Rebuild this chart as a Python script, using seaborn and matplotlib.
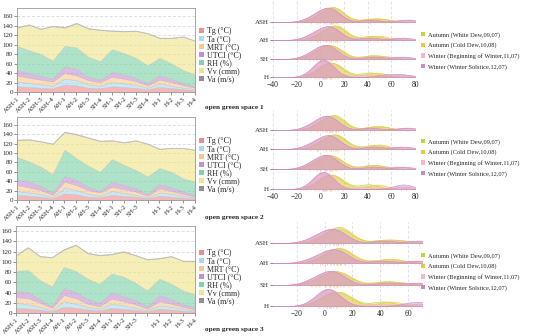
import numpy as np
import pandas as pd
import matplotlib
matplotlib.use("Agg")
import matplotlib.pyplot as plt
import seaborn as sns
from matplotlib.patches import Patch

sns.set_theme(style="white")
plt.rcParams['font.family'] = ['Liberation Serif', 'DejaVu Serif']

# ---------------- data: stacked areas ----------------
SITES_1 = ["ASH-1", "ASH-2", "ASH-3", "ASH-4", "AH-1", "AH-2", "AH-3", "SH-4",
           "SH-1", "SH-2", "SH-3", "SH-4", "H-1", "H-2", "H-3", "H-4"]
SITES_23 = ["ASH-1", "ASH-2", "ASH-3", "ASH-4", "AH-1", "AH-2", "AH-3", "SH-4",
            "SH-1", "SH-2", "SH-3", "", "H-1", "H-2", "H-3", "H-4"]
VARS = ["Tg (°C)", "Ta (°C)", "MRT (°C)", "UTCI (°C)", "RH (%)", "Vv (cmm)", "Va (m/s)"]

TG_1 = [12, 10.5, 9, 8, 15.5, 14, 9, 8, 12, 10.5, 8.5, 5.5, 10.5, 8.5, 5.5, 4]
TA_1 = [10, 8.5, 7, 5, 12.5, 11, 7, 5, 9, 7.5, 6.5, 3.5, 7.5, 4.5, 3.5, 2]
MRT_1 = [13, 11, 10, 9, 12, 10, 9, 8, 11, 10, 8, 5, 8, 8, 5, 3]
UTCI_1 = [12, 10, 8, 6, 14, 13, 7, 5, 10, 9, 7, 5, 9, 7, 5, 3]
RH_1 = [50, 48, 46, 38, 43, 46, 42, 39, 48, 45, 42, 37, 37, 32, 27, 25]
VV_1 = [38.5, 53.5, 52.5, 72.5, 38.5, 50.5, 59.5, 65.5, 38.5, 45.5, 56.5, 67.5, 41.5, 53.5, 70.5, 70.5]
VA_1 = [1.6, 1.5, 1.4, 1.3, 1.8, 1.7, 1.5, 1.4, 1.6, 1.5, 1.4, 1.2, 1.4, 1.3, 1.2, 1.1]

TG_2 = [11, 9, 7, 3.5, 14, 12, 7, 6, 11, 8.5, 7, 3.5, 9, 7, 5, 3]
TA_2 = [8, 7, 6, 2.5, 12, 9, 6, 3, 8, 6.5, 4, 1.5, 7, 6, 4, 2]
MRT_2 = [13, 11, 8, 5, 13, 11, 8, 7, 9, 8, 7, 4, 9, 6, 4, 2]
UTCI_2 = [12, 12, 9, 5, 12, 11, 7, 3, 11, 9, 7, 4, 9, 8, 5, 4]
RH_2 = [48, 43, 41, 39, 56, 46, 45, 41, 48, 43, 39, 37, 34, 33, 28, 28]
VV_2 = [35.5, 46.5, 53.5, 64.5, 37.5, 50.5, 59.5, 65.5, 39.5, 47.5, 62.5, 69.5, 40.5, 50.5, 64.5, 67.5]
VA_2 = [1.5, 1.5, 1.4, 1.2, 1.8, 1.6, 1.5, 1.4, 1.5, 1.4, 1.4, 1.2, 1.4, 1.3, 1.2, 1.1]

TG_3 = [10, 8.5, 6.5, 3.3, 12, 10, 7, 5, 10, 8, 6, 3.3, 8.5, 6.5, 4.5, 3.3]
TA_3 = [10, 8.5, 5.5, 1.7, 11, 8, 5, 3.5, 8, 7, 4, 1.7, 6.5, 5.5, 4, 1.7]
MRT_3 = [11, 12, 8, 5, 12, 11, 6, 4.5, 10, 8, 7, 3.5, 8, 6, 3.5, 2]
UTCI_3 = [12, 12, 7, 3, 14, 12, 9, 7, 12, 10, 8, 4.5, 12, 9, 5, 5]
RH_3 = [39, 43, 37, 39, 41, 41, 40, 37, 37, 38, 34, 31, 32, 30, 27, 24]
VV_3 = [30.5, 43.5, 46.5, 56.5, 33.5, 50.5, 49.5, 55.5, 37.5, 48.5, 53.5, 60.5, 39.5, 53.5, 57.5, 65.5]
VA_3 = [1.5, 1.6, 1.4, 1.2, 1.7, 1.7, 1.5, 1.4, 1.5, 1.5, 1.4, 1.2, 1.4, 1.3, 1.2, 1.1]

# ---------------- data: ridgelines ----------------
GROUPS = ["ASH", "AH", "SH", "H"]
SEASONS = ["Autumn (White Dew,09,07)", "Autumn (Cold Dew,10,08)",
           "Winter (Beginning of Winter,11,07)", "Winter (Winter Solstice,12,07)"]
# each: [White Dew, Cold Dew, Beginning of Winter, Winter Solstice]
S1_ASH = [[-3, 4, 8, 10, 11, 12, 14, 18, 40, 55], [-4, 3, 7, 9, 10, 12, 15, 19, 42, 52],
          [-8, -1, 3, 6, 8, 9, 11, 14, 45, 75], [-8, -2, 2, 5, 7, 9, 11, 13, 42, 72]]
S1_AH = [[-2, 5, 9, 12, 13, 14, 16, 20, 40, 48], [-3, 4, 8, 11, 12, 14, 17, 21, 45, 52],
         [-8, -2, 3, 6, 8, 10, 12, 15, 40, 65], [-9, -3, 2, 5, 7, 9, 11, 14, 42, 70]]
S1_SH = [[-6, 0, 4, 7, 9, 11, 14, 18, 40, 50], [-6, 0, 4, 6, 8, 10, 13, 17, 42, 55],
         [-9, -3, 1, 4, 6, 8, 10, 13, 40, 65], [-10, -4, 0, 3, 5, 7, 9, 12, 45, 70]]
S1_H = [[-3, 3, 6, 8, 10, 12, 15, 19, 40, 44], [-4, 2, 5, 7, 9, 11, 14, 18, 45, 50],
        [-4, 0, 2, 3, 4, 5, 6, 9, 40, 68], [-5, -1, 1, 2, 3, 4, 5, 8, 55, 70]]

S2_ASH = [[-2, 5, 9, 11, 12, 13, 15, 19, 42, 55], [-4, 3, 7, 9, 10, 12, 15, 19, 45, 52],
          [-8, -2, 2, 5, 7, 8, 10, 13, 45, 75], [-9, -3, 1, 4, 6, 8, 10, 13, 42, 72]]
S2_AH = [[-2, 5, 9, 12, 13, 14, 16, 20, 40, 50], [-3, 4, 8, 11, 12, 13, 16, 20, 48, 52],
         [-8, -2, 3, 6, 8, 10, 12, 15, 40, 68], [-9, -3, 2, 5, 7, 9, 11, 14, 45, 70]]
S2_SH = [[-6, 0, 4, 7, 9, 11, 14, 18, 40, 48], [-6, 0, 4, 6, 8, 10, 13, 17, 42, 52],
         [-9, -3, 1, 4, 6, 8, 10, 13, 40, 65], [-10, -4, 0, 3, 5, 7, 9, 12, 45, 70]]
S2_H = [[-3, 3, 6, 8, 10, 12, 15, 19, 40, 42], [-4, 2, 5, 7, 9, 11, 14, 18, 45, 50],
        [-4, 0, 2, 3, 4, 5, 6, 9, 40, 70], [-5, -1, 1, 2, 3, 4, 5, 8, 68, 72]]

S3_ASH = [[0, 6, 9, 10, 11, 12, 13, 17, 40, 52], [-4, 3, 7, 9, 10, 12, 15, 19, 42, 55],
          [-8, -2, 2, 5, 7, 8, 10, 13, 45, 68], [-9, -3, 1, 4, 6, 8, 10, 13, 42, 68]]
S3_AH = [[-2, 5, 8, 10, 11, 12, 15, 19, 40, 50], [-3, 4, 7, 9, 11, 12, 15, 19, 45, 52],
         [-8, -2, 3, 6, 8, 10, 12, 15, 40, 65], [-9, -3, 2, 5, 7, 9, 11, 14, 42, 68]]
S3_SH = [[-6, 0, 4, 7, 9, 11, 14, 18, 40, 50], [-6, 0, 4, 6, 8, 10, 13, 17, 42, 55],
         [-9, -3, 1, 4, 6, 8, 10, 13, 40, 65], [-10, -4, 0, 3, 5, 7, 9, 12, 45, 68]]
S3_H = [[-3, 3, 6, 8, 10, 12, 15, 19, 40, 44], [-4, 2, 5, 7, 9, 11, 14, 18, 45, 50],
        [-4, 0, 2, 3, 4, 5, 6, 9, 40, 68], [-5, -1, 1, 2, 3, 4, 5, 8, 62, 70]]

# ---------------- styling ----------------
AREA_COLORS = ["#f08c8c", "#a6dcef", "#f7c88e", "#c690d2", "#7fd3a9", "#efe58a", "#8e8e9c"]
SEASON_COLORS = ["#b9d843", "#f2c53d", "#f6b8c6", "#c98cc4"]
SEASON_ALPHA = [0.4, 0.4, 0.5, 0.45]
KDE_BANDWIDTH = 8.0  # smoothing width in data units
W, H = 550, 336
fig = plt.figure(figsize=(W / 100, H / 100), dpi=100)


def px_axes(x0, y0, x1, y1):
    return fig.add_axes([x0 / W, 1 - y1 / H, (x1 - x0) / W, (y1 - y0) / H])


def fixed_bw(kde):
    return KDE_BANDWIDTH / np.std(kde.dataset, ddof=1)


stacks = [
    (TG_1, TA_1, MRT_1, UTCI_1, RH_1, VV_1, VA_1),
    (TG_2, TA_2, MRT_2, UTCI_2, RH_2, VV_2, VA_2),
    (TG_3, TA_3, MRT_3, UTCI_3, RH_3, VV_3, VA_3),
]
site_labels = [SITES_1, SITES_23, SITES_23]
left_boxes = [(17, 8, 195, 92), (17, 117, 195, 200), (16, 226, 195, 313)]
left_ymax = [177, 177, 170]
legend_tops = [27, 137, 249]
ridges = [(S1_ASH, S1_AH, S1_SH, S1_H), (S2_ASH, S2_AH, S2_SH, S2_H), (S3_ASH, S3_AH, S3_SH, S3_H)]
ridge_x = [(273, 415, (-40, 80)), (273, 415, (-40, 80)), (273, 422, (-37, 70))]
ridge_top = [1, 110, 222]
baselines = [[22, 40, 59, 77], [130, 149, 169, 189], [243, 263, 285, 306]]
ridge_leg_tops = [32, 139, 253]
captions_y = [108, 218, 330]

for r in range(3):
    # ---- stacked area chart ----
    ax = px_axes(*left_boxes[r])
    df = pd.DataFrame(dict(zip(VARS, stacks[r])))
    df["site"] = np.arange(len(df))
    ax.stackplot(df["site"], *[df[v] for v in VARS], colors=AREA_COLORS, alpha=0.62,
                 linewidth=0.3, edgecolor="#bbbbbb")
    ax.set_xlim(0, len(df) - 1)
    ax.set_ylim(0, left_ymax[r])
    ax.set_yticks(np.arange(0, 161, 20))
    ax.set_xticks(df["site"])
    ax.set_xticklabels(site_labels[r], rotation=45, ha="right", rotation_mode="anchor", fontsize=5)
    ax.tick_params(axis="y", labelsize=5, length=2, width=0.5, pad=1, left=True, color="#666666")
    ax.tick_params(axis="x", length=2, width=0.5, pad=1, bottom=True, color="#666666")
    ax.grid(axis="y", linestyle=(0, (4, 3)), color="#cfcfcf", linewidth=0.5)
    ax.set_axisbelow(True)
    for s in ax.spines.values():
        s.set_color("#999999")
        s.set_linewidth(0.6)
    handles = [Patch(facecolor=c, edgecolor="none") for c in AREA_COLORS]
    fig.legend(handles, VARS, loc="upper left", bbox_to_anchor=(199 / W, 1 - legend_tops[r] / H),
               frameon=False, fontsize=5.8, labelspacing=0.0, handlelength=0.6, handleheight=0.6,
               handletextpad=0.4, borderpad=0, borderaxespad=0)
    fig.text(234 / W, 1 - captions_y[r] / H, f"open green space {r + 1}", ha="center", va="center",
             fontsize=5.2, fontweight="bold")

    # ---- ridgeline ----
    x0, x1, xl = ridge_x[r]
    bl = baselines[r]
    bg = px_axes(x0, ridge_top[r], x1, bl[-1])
    bg.set_xlim(*xl)
    bg.set_ylim(bl[-1], ridge_top[r])
    bg.set_yticks(bl)
    bg.set_yticklabels(GROUPS, fontsize=5)
    bg.set_xticks([t for t in range(-40, 81, 20) if xl[0] <= t <= xl[1]])
    bg.tick_params(axis="x", labelsize=5.5, length=0, pad=3)
    bg.tick_params(axis="y", length=2, width=0.5, pad=1, left=True, color="#555555")
    bg.grid(axis="x", linestyle=(0, (4, 3)), color="#d5d5d5", linewidth=0.5)
    bg.grid(axis="y", visible=False)
    for s in bg.spines.values():
        s.set_visible(False)
    for g, data in enumerate(ridges[r]):
        gax = px_axes(x0, bl[g] - 30, x1, bl[g])
        gax.patch.set_alpha(0)
        for si, vals in enumerate(data):
            sns.kdeplot(x=vals, ax=gax, fill=True, color=SEASON_COLORS[si], alpha=SEASON_ALPHA[si],
                        linewidth=0.4, bw_method=fixed_bw, cut=20, clip=(-45, 85))
            sns.rugplot(x=vals, ax=gax, height=-0.06, clip_on=False, color=SEASON_COLORS[si],
                        linewidth=0.4, alpha=0.5, expand_margins=False)
        gax.set_xlim(*xl)
        gax.set_ylim(0, 0.064)
        gax.set_axis_off()
    handles = [Patch(facecolor=c, edgecolor="none") for c in SEASON_COLORS]
    fig.legend(handles, SEASONS, loc="upper left", bbox_to_anchor=(421 / W, 1 - ridge_leg_tops[r] / H),
               frameon=False, fontsize=4.6, labelspacing=0.75, handlelength=0.6, handleheight=0.6,
               handletextpad=0.5, borderpad=0, borderaxespad=0)

fig.savefig("out.png", dpi=100)
